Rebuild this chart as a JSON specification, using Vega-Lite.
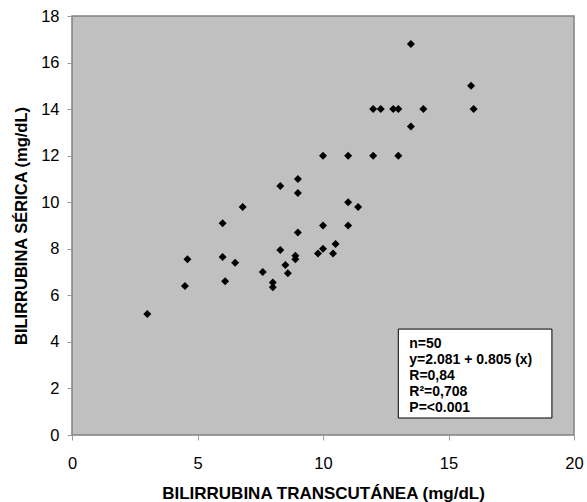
{
  "$schema": "https://vega.github.io/schema/vega-lite/v6.json",
  "width": 502,
  "height": 419,
  "autosize": "none",
  "padding": {"left": 72, "top": 16, "right": 13, "bottom": 67},
  "background": "white",
  "config": {
    "view": {"fill": "#C0C0C0", "stroke": "#808080", "strokeWidth": 1.5},
    "font": "Liberation Sans"
  },
  "layer": [
    {
      "data": {
        "values": [
          {"tc": 9, "serica": 11}, {"tc": 8.3, "serica": 10.7}, {"tc": 9, "serica": 10.4},
          {"tc": 6.8, "serica": 9.8}, {"tc": 6, "serica": 9.1}, {"tc": 13.5, "serica": 16.8},
          {"tc": 15.9, "serica": 15}, {"tc": 12, "serica": 14}, {"tc": 12.3, "serica": 14},
          {"tc": 12.8, "serica": 14}, {"tc": 13, "serica": 14}, {"tc": 14, "serica": 14},
          {"tc": 16, "serica": 14}, {"tc": 13.5, "serica": 13.25}, {"tc": 10, "serica": 12},
          {"tc": 11, "serica": 12}, {"tc": 12, "serica": 12}, {"tc": 13, "serica": 12},
          {"tc": 11, "serica": 10}, {"tc": 11.4, "serica": 9.8}, {"tc": 10, "serica": 9},
          {"tc": 11, "serica": 9}, {"tc": 9, "serica": 8.7}, {"tc": 9.8, "serica": 7.8},
          {"tc": 10, "serica": 8}, {"tc": 10.4, "serica": 7.8}, {"tc": 10.5, "serica": 8.2},
          {"tc": 8.3, "serica": 7.95}, {"tc": 4.6, "serica": 7.55}, {"tc": 6, "serica": 7.65},
          {"tc": 6.5, "serica": 7.4}, {"tc": 8.9, "serica": 7.7}, {"tc": 8.9, "serica": 7.55},
          {"tc": 8.5, "serica": 7.3}, {"tc": 7.6, "serica": 7.0}, {"tc": 8.6, "serica": 6.95},
          {"tc": 8, "serica": 6.55}, {"tc": 8, "serica": 6.35}, {"tc": 6.1, "serica": 6.6},
          {"tc": 4.5, "serica": 6.4}, {"tc": 3, "serica": 5.2}
        ]
      },
      "mark": {"type": "point", "shape": "diamond", "filled": true, "color": "black", "size": 64, "opacity": 1},
      "encoding": {
        "x": {
          "field": "tc", "type": "quantitative",
          "scale": {"domain": [0, 20], "nice": false, "zero": true},
          "axis": {
            "title": "BILIRRUBINA TRANSCUTÁNEA (mg/dL)",
            "titleFontSize": 17, "titleFontWeight": "bold", "titleColor": "black",
            "titleBaseline": "middle", "titleY": 58,
            "values": [0, 5, 10, 15, 20], "grid": false, "domain": false,
            "tickColor": "#999999", "tickSize": 5,
            "labelFontSize": 16.5, "labelColor": "black", "labelPadding": 15, "labelFlush": false
          }
        },
        "y": {
          "field": "serica", "type": "quantitative",
          "scale": {"domain": [0, 18], "nice": false},
          "axis": {
            "title": "BILIRRUBINA SÉRICA (mg/dL)",
            "titleFontSize": 16.5, "titleFontWeight": "bold", "titleColor": "black",
            "titleBaseline": "middle", "titleX": -51, "titleAlign": "center", "titleAngle": -90,
            "values": [0, 2, 4, 6, 8, 10, 12, 14, 16, 18], "grid": false, "domain": false,
            "tickColor": "#999999", "tickSize": 5,
            "labelFontSize": 16.5, "labelColor": "black", "labelPadding": 8, "labelFlush": false
          }
        }
      }
    },
    {
      "data": {"values": [{}]},
      "mark": {"type": "rect", "fill": "white", "stroke": "black", "strokeWidth": 1},
      "encoding": {
        "x": {"datum": 13},
        "x2": {"datum": 19.12},
        "y": {"datum": 0.73},
        "y2": {"datum": 4.55}
      }
    },
    {
      "data": {"values": [{}]},
      "mark": {"type": "text", "align": "left", "baseline": "middle", "fontSize": 14, "fontWeight": "bold", "color": "black", "lineHeight": 16, "dx": 11,
        "text": ["n=50", "y=2.081 + 0.805 (x)", "R=0,84", "R²=0,708", "P=<0.001"]},
      "encoding": {
        "x": {"datum": 13},
        "y": {"datum": 3.9}
      }
    }
  ]
}
